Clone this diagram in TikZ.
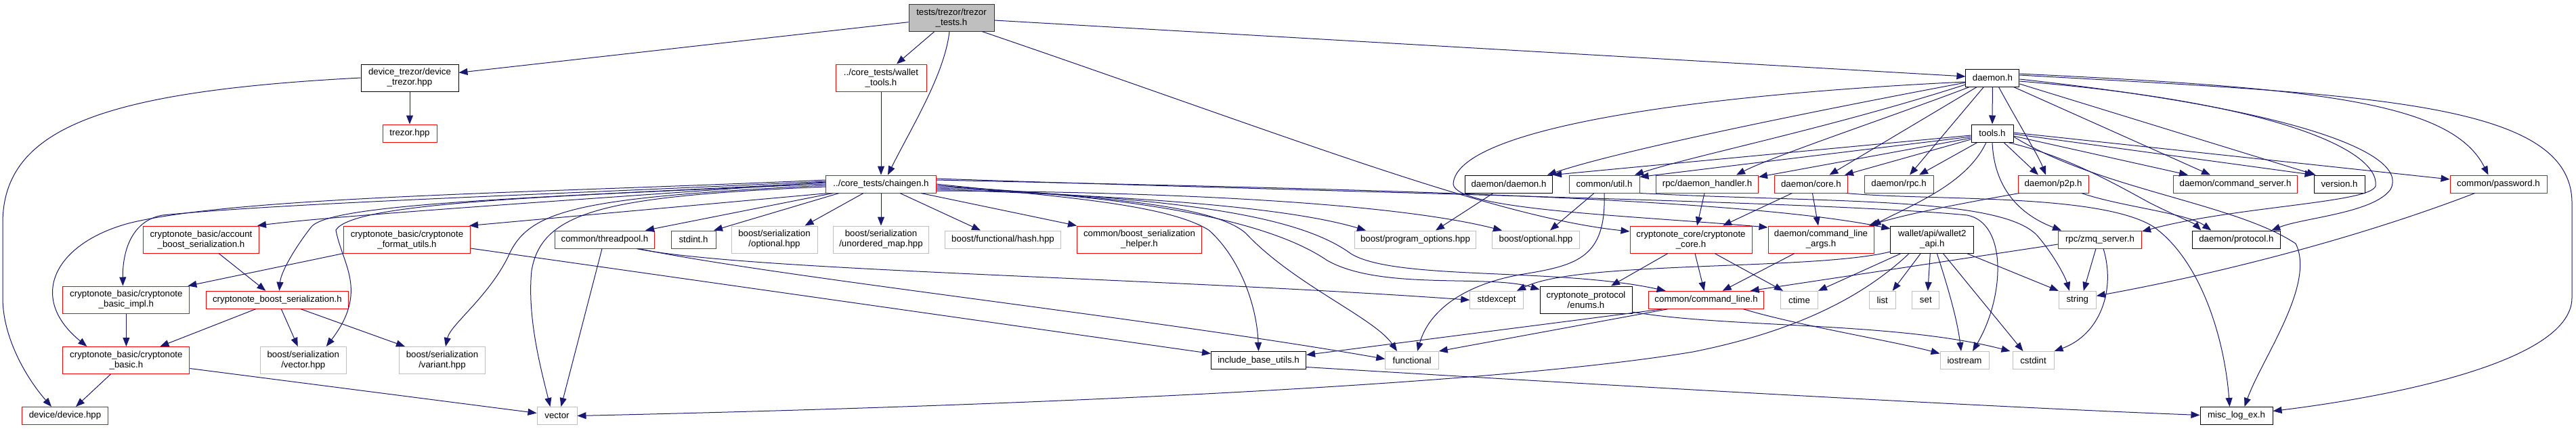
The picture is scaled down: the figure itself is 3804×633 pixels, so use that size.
\documentclass[tikz,border=0pt]{standalone}
\usepackage{fontspec}
\setmainfont{Liberation Sans}
\usetikzlibrary{arrows.meta}
\definecolor{eblue}{HTML}{191970}
\definecolor{lgray}{HTML}{BFBFBF}
\begin{document}
\begin{tikzpicture}[x=1pt,y=-1pt,
  box/.style={draw, line width=1pt, inner sep=0pt, align=center,
    font=\fontsize{13.3}{15}\selectfont, minimum height=26pt},
  two/.style={minimum height=40pt},
  redb/.style={box, draw=red},
  grayb/.style={box, draw=lgray},
  blackb/.style={box, draw=black},
  rootb/.style={box, draw=black!80, fill=lgray},
  e/.style={draw=eblue, line width=1pt, -{Triangle[length=13pt,width=10pt]}},
]
\fill[white] (0,0) rectangle (3804,633);
\useasboundingbox (0,0) rectangle (3804,633);

% row 0-2
\node[rootb, two, minimum width=126pt] (T) at (1405,26) {tests/trezor/trezor\\\_tests.h};
\node[blackb, two, minimum width=144pt] (DT) at (605,115) {device\_trezor/device\\\_trezor.hpp};
\node[redb, two, minimum width=134pt] (WT) at (1301,115) {../core\_tests/wallet\\\_tools.h};
\node[blackb, minimum width=79pt] (D) at (2942.4,115) {daemon.h};
\node[redb, minimum width=80pt] (TZ) at (605,197) {trezor.hpp};
\node[blackb, minimum width=62pt] (TL) at (2942,197) {tools.h};

% row 3
\node[redb, minimum width=163pt] (CG) at (1301,272) {../core\_tests/chaingen.h};
\node[blackb, minimum width=129pt] (DD) at (2228,272) {daemon/daemon.h};
\node[redb, minimum width=104pt] (UT) at (2369,272) {common/util.h};
\node[redb, minimum width=151pt] (DH) at (2521,272) {rpc/daemon\_handler.h};
\node[redb, minimum width=108pt] (DC) at (2674.4,272) {daemon/core.h};
\node[redb, minimum width=102pt] (DR) at (2804,272) {daemon/rpc.h};
\node[redb, minimum width=104pt] (DP) at (3032,272) {daemon/p2p.h};
\node[redb, minimum width=183pt] (CS) at (3301,272) {daemon/command\_server.h};
\node[blackb, minimum width=75pt] (VH) at (3454.5,272) {version.h};
\node[redb, minimum width=143pt] (PW) at (3689.5,272) {common/password.h};

% row 4
\node[redb, two, minimum width=171pt] (AB) at (297,354) {cryptonote\_basic/account\\\_boost\_serialization.h};
\node[redb, two, minimum width=187pt] (FU) at (601,354) {cryptonote\_basic/cryptonote\\\_format\_utils.h};
\node[redb, minimum width=147pt] (TP) at (893,354) {common/threadpool.h};
\node[redb, minimum width=66pt] (SI) at (1024,354) {stdint.h};
\node[grayb, two, minimum width=127pt] (BSO) at (1143.5,354) {boost/serialization\\/optional.hpp};
\node[grayb, two, minimum width=141pt] (BSU) at (1301,354) {boost/serialization\\/unordered\_map.hpp};
\node[grayb, minimum width=171pt] (FH) at (1481,354) {boost/functional/hash.hpp};
\node[redb, two, minimum width=184pt] (BSH) at (1682.5,354) {common/boost\_serialization\\\_helper.h};
\node[grayb, minimum width=179pt] (PO) at (2090,354) {boost/program\_options.hpp};
\node[grayb, minimum width=129pt] (BO) at (2268,354) {boost/optional.hpp};
\node[redb, two, minimum width=180pt] (CC) at (2497,354) {cryptonote\_core/cryptonote\\\_core.h};
\node[redb, two, minimum width=156pt] (CLA) at (2689,354) {daemon/command\_line\\\_args.h};
\node[blackb, two, minimum width=123pt] (WA) at (2853.3,354) {wallet/api/wallet2\\\_api.h};
\node[redb, minimum width=123pt] (ZS) at (3101,354) {rpc/zmq\_server.h};
\node[blackb, minimum width=130pt] (PR) at (3302.3,354) {daemon/protocol.h};

% row 5
\node[redb, two, minimum width=187pt] (BI) at (186.4,443) {cryptonote\_basic/cryptonote\\\_basic\_impl.h};
\node[redb, minimum width=210pt] (CBS) at (409.4,443.3) {cryptonote\_boost\_serialization.h};
\node[grayb, minimum width=78.5pt] (SE) at (2210,443.3) {stdexcept};
\node[blackb, two, minimum width=136pt] (EN) at (2342,443) {cryptonote\_protocol\\/enums.h};
\node[redb, minimum width=170.5pt] (CL) at (2519.6,443.3) {common/command\_line.h};
\node[grayb, minimum width=55pt] (CT) at (2657,443.3) {ctime};
\node[grayb, minimum width=39pt] (LI) at (2779.7,443.3) {list};
\node[grayb, minimum width=40pt] (ST) at (2843.8,443.3) {set};
\node[grayb, minimum width=55pt] (SR) at (3067.8,443.3) {string};

% row 6
\node[redb, two, minimum width=187pt] (CB) at (186.4,532.5) {cryptonote\_basic/cryptonote\\\_basic.h};
\node[grayb, two, minimum width=127pt] (VE) at (447.8,532.5) {boost/serialization\\/vector.hpp};
\node[grayb, two, minimum width=127pt] (VA) at (653,532.5) {boost/serialization\\/variant.hpp};
\node[blackb, minimum width=140pt] (IB) at (1858.5,532.5) {include\_base\_utils.h};
\node[grayb, minimum width=78.5pt] (FN) at (2085,532.5) {functional};
\node[grayb, minimum width=72pt] (IO) at (2901,532.5) {iostream};
\node[grayb, minimum width=61pt] (CI) at (3002.5,532.5) {cstdint};

% row 7
\node[redb, minimum width=127pt] (DV) at (96,614.5) {device/device.hpp};
\node[grayb, minimum width=59pt] (VC) at (822.5,614.5) {vector};
\node[blackb, minimum width=107pt] (ML) at (3302.5,614.5) {misc\_log\_ex.h};

% ---- edges from root
\draw[e] (T.186) -- (DT.6);
\draw[e] ([xshift=-25pt]T.south) -- ([xshift=23pt]WT.north);
\draw[e] ([xshift=-3pt]T.south) .. controls (1395,110) and (1345,190) .. ([xshift=10pt]CG.north);
\draw[e] ([yshift=-4pt]T.east) -- ([yshift=2pt]D.west);
\draw[e] ([xshift=45pt]T.south) .. controls (1900,200) and (2200,320) .. ([yshift=12pt]CC.west);

% ---- left cluster
\draw[e] (DT) -- (TZ);
\draw[e] (DT.west) .. controls (150,135) and (4,190) .. (4,330) -- (4,440) .. controls (4,500) and (40,560) .. ([xshift=-20pt]DV.north);
\draw[e] (WT) -- (CG);

\draw[e] ([yshift=6pt]CG.west) .. controls (800,285) and (350,290) .. (190,330) .. controls (80,360) and (40,440) .. ([xshift=-58pt]CB.north);
\draw[e] ([yshift=4pt]CG.west) .. controls (800,288) and (420,300) .. (240,318) .. controls (195,326) and (181,370) .. ([xshift=-5pt]BI.north);
\draw[e] ([yshift=3pt]CG.west) .. controls (900,292) and (500,318) .. ([xshift=-3pt]AB.north east);
\draw[e] ([yshift=2pt]CG.west) .. controls (800,292) and (490,300) .. (460,335) .. controls (440,360) and (415,400) .. ([xshift=3pt]CBS.north);
\draw[e] (CG.west) .. controls (800,290) and (520,300) .. (496,340) .. controls (505,390) and (545,430) .. ([xshift=34pt]VE.north);
\draw[e] ([yshift=-2pt]CG.west) .. controls (850,292) and (780,310) .. (750,380) .. controls (720,440) and (665,480) .. ([xshift=5pt]VA.north);
\draw[e] ([yshift=-4pt]CG.west) .. controls (900,290) and (800,310) .. (785,400) .. controls (778,470) and (800,550) .. ([xshift=-10pt]VC.north);
\draw[e] ([xshift=-78pt]CG.south) -- ([xshift=-2pt]FU.north east);
\draw[e] ([xshift=-71pt]CG.south) -- ([xshift=60pt]TP.north);
\draw[e] ([xshift=-62pt]CG.south) -- ([xshift=30pt]SI.north);
\draw[e] ([xshift=-26pt]CG.south) -- ([xshift=45pt]BSO.north);
\draw[e] (CG) -- (BSU);
\draw[e] ([xshift=28pt]CG.south) -- ([xshift=-33pt]FH.north);
\draw[e] ([xshift=59pt]CG.south) -- (BSH.north west);
\draw[e] (CG.east) .. controls (1550,290) and (1720,300) .. (1785,340) .. controls (1830,380) and (1856,450) .. (IB.north);
\draw[e] ([yshift=-2pt]CG.east) .. controls (1600,290) and (1790,300) .. (1840,345) .. controls (1910,420) and (2030,470) .. ([xshift=-22pt]FN.north);
\draw[e] ([yshift=-4pt]CG.east) .. controls (1700,290) and (1880,330) .. (1960,385) .. controls (2040,430) and (2200,405) .. ([yshift=15pt]EN.west);
\draw[e] ([yshift=-6pt]CG.east) .. controls (1750,292) and (1920,320) .. (1995,375) .. controls (2060,415) and (2300,395) .. ([xshift=-60pt]CL.north);
\draw[e] ([yshift=-8pt]CG.east) .. controls (1600,288) and (1880,300) .. ([xshift=-73pt]PO.north);
\draw[e] ([yshift=-10pt]CG.east) .. controls (1700,283) and (2050,298) .. ([xshift=-50pt]BO.north);
\draw[e] ([yshift=6pt]CG.east) .. controls (1900,278) and (2550,288) .. ([yshift=16pt]WA.west);
\draw[e] ([yshift=8pt]CG.east) .. controls (2000,285) and (2700,298) .. (2905,318) .. controls (2965,330) and (2960,440) .. ([xshift=12pt]IO.north);

\draw[e] ([xshift=-4pt]TP.south) -- ([xshift=6pt]VC.north);
\draw[e] ([xshift=47pt]TP.south) .. controls (1100,400) and (1700,410) .. (SE.west);
\draw[e] ([xshift=50pt]TP.south) .. controls (1150,410) and (1700,470) .. ([yshift=2pt]FN.west);
\draw[e] (FU.south west) -- ([xshift=-3pt]BI.north east);
\draw[e] ([yshift=-13pt]FU.east) -- ([yshift=10pt]IB.west);
\draw[e] ([xshift=26pt]AB.south) -- ([xshift=-17pt]CBS.north);
\draw[e] ([xshift=-32pt]CBS.south) -- ([xshift=50pt]CB.north);
\draw[e] ([xshift=6pt]CBS.south) -- ([xshift=-8pt]VE.north);
\draw[e] ([xshift=35pt]CBS.south) -- ([xshift=-55pt]VA.north);
\draw[e] (BI) -- (CB);
\draw[e] ([xshift=-23pt]CB.south) -- ([xshift=16pt]DV.north);
\draw[e] ([yshift=-12pt]CB.east) -- ([yshift=4pt]VC.west);

% ---- daemon.h
\draw[e] (D) -- (TL);
\draw[e] ([yshift=-7pt]D.west) .. controls (2700,160) and (2400,220) .. ([xshift=57pt]DD.north);
\draw[e] ([yshift=-10pt]D.west) .. controls (2700,190) and (2500,230) .. ([xshift=45pt]UT.north);
\draw[e] ([xshift=-34pt]D.south) .. controls (2800,170) and (2620,230) .. ([xshift=43pt]DH.north);
\draw[e] ([xshift=-23pt]D.south) -- ([xshift=27pt]DC.north);
\draw[e] ([xshift=-13pt]D.south) -- ([xshift=16pt]DR.north);
\draw[e] ([xshift=9pt]D.south) .. controls (2985,190) and (3010,230) .. ([xshift=-11pt]DP.north);
\draw[e] ([xshift=31pt]D.south) -- ([xshift=-37pt]CS.north);
\draw[e] ([yshift=-9pt]D.east) -- ([xshift=3pt]VH.north west);
\draw[e] ([yshift=6pt]D.east) .. controls (3420,130) and (3620,150) .. ([xshift=-15pt]PW.north);
\draw[e] ([yshift=4pt]D.east) .. controls (3500,140) and (3798,150) .. (3798,300) -- (3798,440) .. controls (3798,540) and (3500,590) .. ([yshift=7pt]ML.east);
\draw[e] ([yshift=-2pt]D.east) .. controls (3380,160) and (3560,225) .. (3530,280) .. controls (3505,315) and (3400,322) .. ([xshift=52pt]PR.north);
\draw[e] ([yshift=-5pt]D.east) .. controls (3350,150) and (3515,220) .. (3508,275) .. controls (3500,300) and (3300,305) .. ([yshift=12pt]ZS.east);
\draw[e] ([yshift=-6pt]D.west) .. controls (2500,140) and (2150,190) .. (2146,272) .. controls (2150,310) and (2400,318) .. ([yshift=18pt]CLA.west);

% ---- tools.h
\draw[e] ([yshift=-3pt]TL.west) -- (DD.north east);
\draw[e] ([yshift=-5pt]TL.west) -- ([yshift=-3pt]UT.north east);
\draw[e] ([yshift=-7pt]TL.west) -- ([yshift=-3pt]DH.north east);
\draw[e] ([yshift=-9pt]TL.west) -- ([xshift=-5pt]DC.north east);
\draw[e] ([xshift=-22pt]TL.south) -- ([xshift=30pt]DR.north);
\draw[e] ([xshift=17pt]TL.south) -- ([xshift=-22pt]DP.north);
\draw[e] ([yshift=-4pt]TL.east) -- ([xshift=-70pt]CS.north);
\draw[e] ([yshift=-1pt]TL.east) -- (VH.north west);
\draw[e] ([yshift=1pt]TL.east) -- ([yshift=7pt]PW.west);
\draw[e] ([xshift=-9pt]TL.south) .. controls (2905,270) and (2830,300) .. ([xshift=-3pt]CLA.north east);
\draw[e] (TL.south) .. controls (2945,285) and (2990,320) .. ([xshift=5pt]ZS.north west);
\draw[e] ([xshift=23pt]TL.south) .. controls (3050,230) and (3120,270) .. (3175,300) .. controls (3215,320) and (3240,330) .. ([xshift=-52pt]PR.north);
\draw[e] ([yshift=-5pt]TL.east) .. controls (3100,280) and (3300,300) .. (3390,360) .. controls (3420,420) and (3340,530) .. ([xshift=12pt]ML.north);

% ---- row 3 sources
\draw[e] ([xshift=-50pt]DP.south) .. controls (2900,300) and (2820,315) .. ([xshift=-8pt]CLA.north east);
\draw[e] ([xshift=42pt]DP.south) .. controls (3130,305) and (3230,315) .. ([xshift=-37pt]PR.north);
\draw[e] ([xshift=-28pt]DC.south) -- ([xshift=47pt]CC.north);
\draw[e] ([xshift=2pt]DC.south) -- ([xshift=-4pt]CLA.north);
\draw[e] ([xshift=52pt]DC.south) .. controls (2850,297) and (3100,285) .. (3180,335) .. controls (3250,385) and (3285,500) .. ([xshift=-10pt]ML.north);
\draw[e] ([xshift=-4pt]DH.south) -- ([xshift=9pt]CC.north);
\draw[e] ([xshift=-23pt]DD.south) -- ([xshift=30pt]PO.north);
\draw[e] ([xshift=-15pt]UT.south) -- ([xshift=21pt]BO.north);
\draw[e] (UT.south) .. controls (2372,380) and (2330,392) .. (2250,405) .. controls (2160,420) and (2110,460) .. ([xshift=8pt]FN.north);
\draw[e] (UT.south east) .. controls (2700,300) and (2960,290) .. (3010,350) .. controls (3035,380) and (3050,410) .. ([xshift=-12pt]SR.north);
\draw[e] ([xshift=-35pt]PW.south) .. controls (3500,345) and (3300,400) .. ([yshift=6pt]SR.east);

% ---- row 4 sources
\draw[e] ([xshift=-34pt]CC.south) -- ([xshift=37pt]EN.north);
\draw[e] ([xshift=6pt]CC.south) -- ([xshift=-3pt]CL.north);
\draw[e] ([xshift=35pt]CC.south) -- ([xshift=-24pt]CT.north);
\draw[e] ([xshift=-39pt]CLA.south) -- ([xshift=24pt]CL.north);
\draw[e] ([yshift=-7pt]ZS.west) -- ([xshift=65pt]CL.north);
\draw[e] ([xshift=-6pt]ZS.south) -- ([xshift=9pt]SR.north);
\draw[e] ([xshift=5pt]ZS.south) .. controls (3125,430) and (3100,495) .. (CI.north east);
\draw[e] ([yshift=-18pt]WA.west) .. controls (2680,400) and (2330,385) .. ([xshift=30pt]SE.north);
\draw[e] ([xshift=-46pt]WA.south) -- (CT.north east);
\draw[e] ([xshift=-34pt]WA.south) .. controls (2750,440) and (2650,490) .. (2500,520) .. controls (2200,570) and (1500,600) .. (VC.east);
\draw[e] ([xshift=-17pt]WA.south) -- ([xshift=15pt]LI.north);
\draw[e] ([xshift=-3pt]WA.south) -- ([xshift=3pt]ST.north);
\draw[e] ([xshift=7pt]WA.south) .. controls (2875,420) and (2890,470) .. ([xshift=-5pt]IO.north);
\draw[e] ([xshift=16pt]WA.south) -- ([xshift=-15pt]CI.north);
\draw[e] ([xshift=51pt]WA.south) -- (SR.north west);

% ---- row 5/6 sources
\draw[e] ([yshift=-18pt]EN.east) .. controls (2550,485) and (2800,475) .. ([xshift=-3pt]CI.north west);
\draw[e] ([xshift=-65pt]CL.south) -- ([yshift=8pt]IB.east);
\draw[e] ([xshift=-57pt]CL.south) -- (FN.north east);
\draw[e] ([xshift=55pt]CL.south) .. controls (2650,480) and (2800,505) .. ([yshift=10pt]IO.west);
\draw[e] ([yshift=-10pt]IB.east) .. controls (2300,565) and (2900,600) .. ([yshift=1pt]ML.west);
\end{tikzpicture}
\end{document}
